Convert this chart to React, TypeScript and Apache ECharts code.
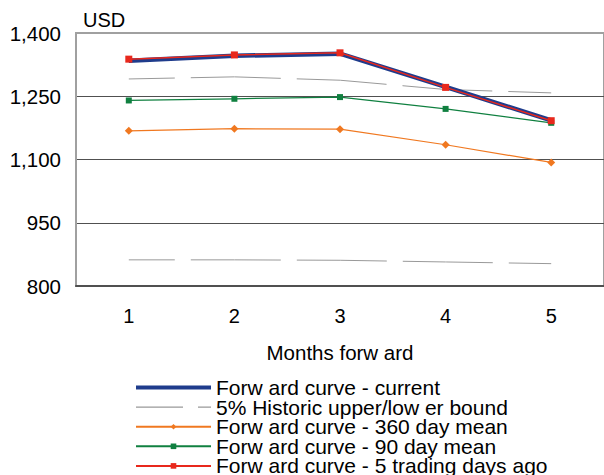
import React, { useEffect, useRef } from "react";
import * as echarts from "echarts";

// Months ahead on the forward curve
const months = ["1", "2", "3", "4", "5"];

// Prices in USD
const currentCurve = [1334, 1346, 1351, 1272, 1193];
const fiveDaysAgo = [1338, 1348, 1353, 1271, 1192];
const mean90 = [1240, 1244, 1248, 1220, 1187];
const mean360 = [1168, 1173, 1172, 1135, 1093];
const upperBound = [1291, 1296, 1288, 1266, 1258];
const lowerBound = [862, 862, 861, 857, 853];

const yTicks = [800, 950, 1100, 1250, 1400];

const NAME_CURRENT = "Forw ard curve - current";
const NAME_BOUND = "5% Historic upper/low er bound";
const NAME_360 = "Forw ard curve - 360 day mean";
const NAME_90 = "Forw ard curve - 90 day mean";
const NAME_5D = "Forw ard curve - 5 trading days ago";

const FONT = "'Liberation Sans', Arial, sans-serif";

// Legend icons for the two series that have no markers
const ICON_SOLID = "path://M0,0H75V4H0Z";
const ICON_DASHED = "path://M0,0H47V1.3H0Z M62,0H75V1.3H62Z";

export default function App() {
  const ref = useRef<HTMLDivElement>(null);

  useEffect(() => {
    document.body.style.margin = "0";
    if (!ref.current) return;
    const chart = echarts.init(ref.current, undefined, { renderer: "svg" });

    const boundStyle = {
      color: "#999999",
      width: 1,
      type: [46, 16, 44, 0] as number[],
    };

    chart.setOption({
      animation: false,
      backgroundColor: "#ffffff",
      textStyle: { fontFamily: FONT },
      grid: {
        left: 76,
        right: -2,
        top: 33,
        bottom: 189,
        show: true,
        borderColor: "#a0a0a0",
        borderWidth: 2,
      },
      xAxis: {
        type: "category",
        data: months,
        boundaryGap: true,
        name: "Months forw ard",
        nameLocation: "middle",
        nameGap: 56,
        nameTextStyle: { fontSize: 20.5, color: "#000", fontFamily: FONT },
        axisLine: { show: true, lineStyle: { color: "#505050", width: 2 } },
        axisTick: { show: false },
        axisLabel: { fontSize: 20, color: "#000", margin: 20, fontFamily: FONT },
      },
      yAxis: {
        type: "value",
        min: yTicks[0],
        max: yTicks[yTicks.length - 1],
        interval: 150,
        name: "USD",
        nameLocation: "end",
        nameGap: 3,
        nameTextStyle: {
          fontSize: 20,
          color: "#000",
          align: "left",
          padding: [0, 0, 0, 7],
          fontFamily: FONT,
        },
        axisLine: { show: true, lineStyle: { color: "#a0a0a0", width: 2 } },
        axisTick: { show: false },
        axisLabel: {
          fontSize: 20.5,
          color: "#000",
          margin: 15,
          fontFamily: FONT,
          formatter: (v: number) => v.toLocaleString("en-US"),
        },
        splitLine: {
          show: true,
          lineStyle: {
            color: ["#505050", "#505050", "#505050", "#505050", "#a0a0a0"],
            width: 1,
          },
        },
      },
      legend: {
        orient: "vertical",
        left: 135,
        top: 377,
        height: 120,
        padding: 0,
        itemWidth: 75,
        itemHeight: 7,
        itemGap: -1.4,
        selectedMode: false,
        data: [
          { name: NAME_CURRENT, icon: ICON_SOLID },
          { name: NAME_BOUND, icon: ICON_DASHED },
          NAME_360,
          NAME_90,
          NAME_5D,
        ],
        textStyle: {
          fontSize: 21,
          color: "#000",
          fontFamily: FONT,
        },
      },
      series: [
        {
          name: NAME_BOUND,
          type: "line",
          data: upperBound,
          symbol: "none",
          lineStyle: boundStyle,
          itemStyle: { color: "#999999" },
          z: 1,
        },
        {
          name: NAME_BOUND,
          type: "line",
          data: lowerBound,
          symbol: "none",
          lineStyle: boundStyle,
          itemStyle: { color: "#999999" },
          z: 1,
        },
        {
          name: NAME_360,
          type: "line",
          data: mean360,
          symbol: "diamond",
          symbolSize: 8,
          lineStyle: { color: "#f07820", width: 1.2 },
          itemStyle: { color: "#f07820" },
          z: 2,
        },
        {
          name: NAME_90,
          type: "line",
          data: mean90,
          symbol: "rect",
          symbolSize: 6,
          lineStyle: { color: "#108040", width: 1.2 },
          itemStyle: { color: "#108040" },
          z: 3,
        },
        {
          name: NAME_CURRENT,
          type: "line",
          data: currentCurve,
          symbol: "none",
          lineStyle: { color: "#1f3c8c", width: 4.5 },
          itemStyle: { color: "#1f3c8c" },
          z: 4,
        },
        {
          name: NAME_5D,
          type: "line",
          data: fiveDaysAgo,
          symbol: "rect",
          symbolSize: 7,
          lineStyle: { color: "#e8281c", width: 1.5 },
          itemStyle: { color: "#e8281c" },
          z: 5,
        },
      ],
    });

    return () => chart.dispose();
  }, []);

  return <div ref={ref} style={{ width: 604, height: 475 }} />;
}
